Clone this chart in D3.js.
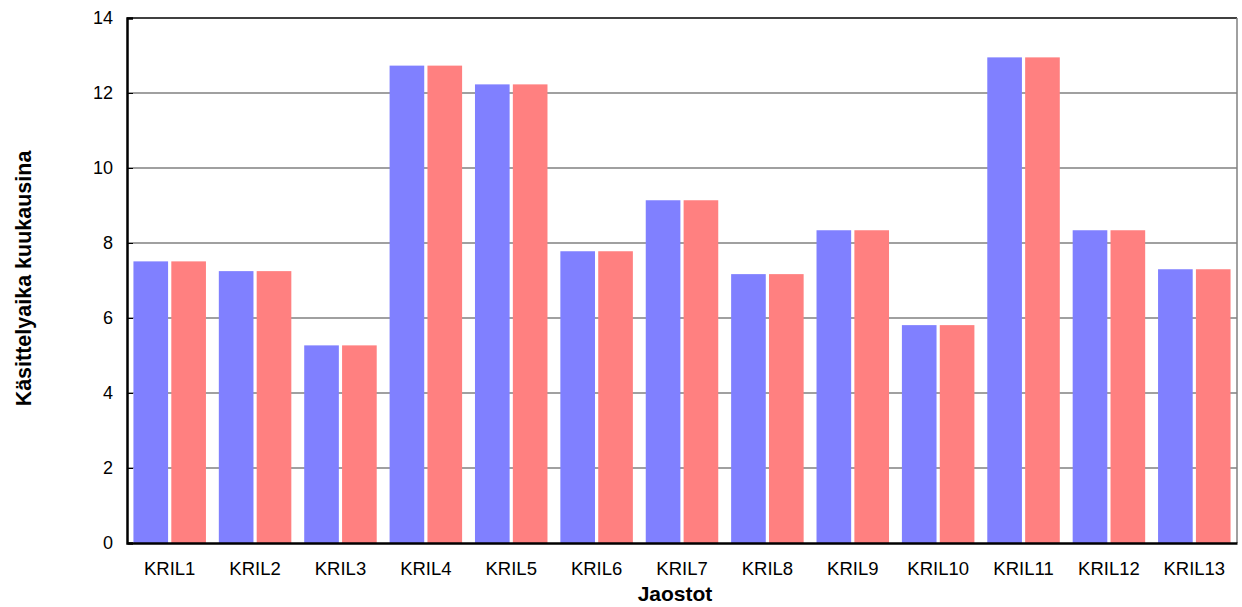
<!DOCTYPE html>
<html><head><meta charset="utf-8">
<script src="https://cdn.jsdelivr.net/npm/d3@7"></script>
<style>body{margin:0;background:#fff}svg{display:block}text{font-family:"Liberation Sans",Arial,sans-serif}</style>
</head><body>
<svg id="c" width="1242" height="607"></svg>
<script>
const categories = ["KRIL1","KRIL2","KRIL3","KRIL4","KRIL5","KRIL6","KRIL7","KRIL8","KRIL9","KRIL10","KRIL11","KRIL12","KRIL13"];
const seriesA = [7.51,7.25,5.27,12.73,12.23,7.78,9.14,7.17,8.34,5.81,12.95,8.34,7.3];
const seriesB = [7.51,7.25,5.27,12.73,12.23,7.78,9.14,7.17,8.34,5.81,12.95,8.34,7.3];
const yTicks = [0,2,4,6,8,10,12,14];
const yTitle = "Käsittelyaika kuukausina";
const xTitle = "Jaostot";

const svg = d3.select("#c");
const L = 127, R = 1237, T = 18, B = 543;
const x = d3.scaleBand().domain(categories).range([L, R]).paddingInner(0).paddingOuter(0);
const y = d3.scaleLinear().domain([0, 14]).range([B, T]);
const sub = d3.scaleBand().domain(["a","b"]).range([0, x.bandwidth()]).paddingInner(0.085).paddingOuter(0.17);

// gridlines
svg.append("g").selectAll("line").data(yTicks.filter(d => d > 0 && d < 14)).join("line")
  .attr("x1", L).attr("x2", R).attr("y1", d => y(d)).attr("y2", d => y(d))
  .attr("stroke", "#808080").attr("stroke-width", 1.5);

// bars
const g = svg.append("g");
g.selectAll(".a").data(categories).join("rect")
  .attr("x", d => x(d) + sub("a")).attr("width", sub.bandwidth())
  .attr("y", (d,i) => y(seriesA[i])).attr("height", (d,i) => y(0) - y(seriesA[i]))
  .attr("fill", "#8080FF");
g.selectAll(".b").data(categories).join("rect")
  .attr("x", d => x(d) + sub("b")).attr("width", sub.bandwidth())
  .attr("y", (d,i) => y(seriesB[i])).attr("height", (d,i) => y(0) - y(seriesB[i]))
  .attr("fill", "#FF8080");

// frame
svg.append("line").attr("x1", L).attr("x2", R).attr("y1", T).attr("y2", T).attr("stroke", "#000").attr("stroke-width", 1.5);
svg.append("line").attr("x1", R).attr("x2", R).attr("y1", T).attr("y2", B).attr("stroke", "#808080").attr("stroke-width", 1.5);

// y axis
const ya = svg.append("g").attr("transform", `translate(${L},0)`)
  .call(d3.axisRight(y).tickValues(yTicks).tickSize(6).tickFormat(""));
ya.select(".domain").attr("stroke", "#000").attr("stroke-width", 2.5);
ya.selectAll(".tick line").attr("stroke", "#000").attr("stroke-width", 1);
svg.append("g").selectAll("text").data(yTicks).join("text")
  .attr("x", 113).attr("y", d => y(d)).attr("dy", "0.36em").attr("text-anchor", "end")
  .style("font-size", "18px").attr("fill", "#000").text(d => d);

// x axis
const xa = svg.append("g").attr("transform", `translate(0,${B})`)
  .call(d3.axisBottom(x).tickSize(0).tickPadding(0));
xa.select(".domain").attr("stroke", "#000").attr("stroke-width", 2.5);
xa.selectAll(".tick text").attr("dy", null).attr("y", 32).style("font-size", "18.5px").attr("fill", "#000");

// titles
svg.append("text").attr("x", (L + R) / 2 - 7).attr("y", 601).attr("text-anchor", "middle")
  .style("font-size", "21px").attr("font-weight", "bold").text(xTitle);
svg.append("text").attr("transform", `translate(31,${(T + B) / 2 - 2}) rotate(-90)`).attr("text-anchor", "middle")
  .style("font-size", "21.5px").attr("font-weight", "bold").text(yTitle);
</script>
</body></html>
